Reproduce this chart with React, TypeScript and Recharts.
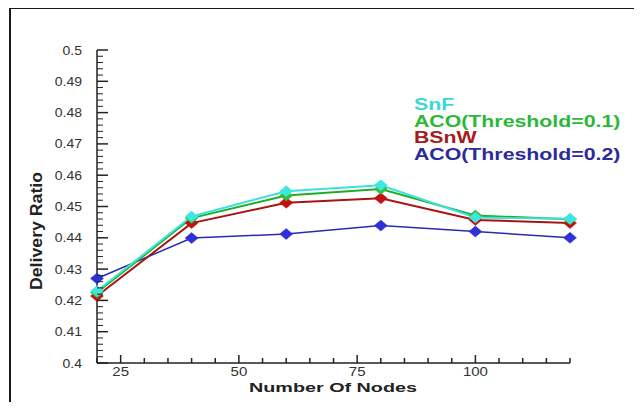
import { LineChart, Line, XAxis, YAxis, Legend } from "recharts";

const nodes = [20, 40, 60, 80, 100, 120];
const snf = [0.423, 0.4468, 0.4549, 0.4568, 0.4465, 0.4461];
const aco01 = [0.4225, 0.4463, 0.4535, 0.4556, 0.4471, 0.4459];
const bsnw = [0.4214, 0.4447, 0.4512, 0.4526, 0.4457, 0.4447];
const aco02 = [0.427, 0.4399, 0.4412, 0.4439, 0.442, 0.44];

const xMajor = [25, 50, 75, 100];
const yMajor = [0.4, 0.41, 0.42, 0.43, 0.44, 0.45, 0.46, 0.47, 0.48, 0.49, 0.5];

// minor ticks every 5 nodes / every 0.002
const xTicks: number[] = [];
for (let v = 20; v <= 120; v += 5) xTicks.push(v);
const yTicks: number[] = [];
for (let i = 400; i <= 500; i += 2) yTicks.push(i / 1000);

const data = nodes.map((n, i) => ({
  n,
  snf: snf[i],
  aco01: aco01[i],
  bsnw: bsnw[i],
  aco02: aco02[i],
}));

const series = [
  { key: "snf", name: "SnF", line: "#3ee0dc", dot: "#3fe6e0", text: "#3dd8d8", width: 2 },
  { key: "aco01", name: "ACO(Threshold=0.1)", line: "#1fae2a", dot: "#2fbf3a", text: "#2bb83a", width: 2 },
  { key: "bsnw", name: "BSnW", line: "#a81414", dot: "#c41010", text: "#a51a1a", width: 2 },
  { key: "aco02", name: "ACO(Threshold=0.2)", line: "#2a2ab0", dot: "#3030d8", text: "#2b2b9c", width: 1.5 },
];

const font = "'Liberation Sans', Arial, sans-serif";

const Diamond = (color: string) => (props: any) => {
  const { cx, cy } = props;
  if (cx == null || cy == null) return <g />;
  return (
    <polygon
      points={`${cx},${cy - 5.5} ${cx + 6.5},${cy} ${cx},${cy + 5.5} ${cx - 6.5},${cy}`}
      fill={color}
      stroke={color}
      strokeWidth={0.5}
    />
  );
};

function XTick(props: any) {
  const { x, y, payload } = props;
  const major = xMajor.includes(payload.value);
  return (
    <g>
      <line x1={x} y1={y} x2={x} y2={y - (major ? 8 : 5)} stroke="#222" strokeWidth={1.5} />
      {major && (
        <g transform={`translate(${x},${y + 13}) scale(1.25,1)`}>
          <text x={0} y={0} textAnchor="middle" fontSize={12} fill="#333" fontFamily={font}>
            {payload.value}
          </text>
        </g>
      )}
    </g>
  );
}

function YTick(props: any) {
  const { x, y, payload } = props;
  const major = Math.round(payload.value * 1000) % 10 === 0;
  return (
    <g>
      <line x1={x} y1={y} x2={x + (major ? 11 : 6)} y2={y} stroke="#222" strokeWidth={major ? 1.5 : 1} />
      {major && (
        <g transform={`translate(${x - 15},${y + 4.5}) scale(1.12,1)`}>
          <text x={0} y={0} textAnchor="end" fontSize={12.5} fill="#333" fontFamily={font}>
            {yMajor.find((m) => Math.abs(m - payload.value) < 1e-6)}
          </text>
        </g>
      )}
    </g>
  );
}

function LegendText() {
  return (
    <div
      style={{
        fontFamily: font,
        fontWeight: "bold",
        fontSize: 16,
        lineHeight: "16.5px",
        transform: "scaleX(1.33)",
        transformOrigin: "left top",
        whiteSpace: "nowrap",
      }}
    >
      {series.map((s) => (
        <div key={s.key} style={{ color: s.text }}>
          {s.name}
        </div>
      ))}
    </div>
  );
}

export default function App() {
  const drawOrder = [series[3], series[2], series[1], series[0]];
  return (
    <div style={{ position: "relative", width: 642, height: 410, margin: -8, background: "#fff" }}>
      <div
        style={{
          position: "absolute",
          left: 9,
          top: 7,
          width: 632,
          height: 400,
          borderLeft: "2px solid #1a1a1a",
          borderTop: "2px solid #1a1a1a",
          borderRight: "1px solid #e4e4e4",
          borderBottom: "1px solid #e4e4e4",
          boxSizing: "border-box",
        }}
      />
      <div style={{ position: "absolute", left: 0, top: 0 }}>
        <LineChart width={642} height={410} data={data} margin={{ top: 50, right: 72, bottom: 7, left: 37 }}>
          <XAxis
            dataKey="n"
            type="number"
            domain={[20, 120]}
            ticks={xTicks}
            interval={0}
            tickSize={0}
            tickMargin={0}
            tick={<XTick />}
            height={40}
            axisLine={{ stroke: "#222", strokeWidth: 1.5 }}
            label={{
              content: () => (
                <text
                  x={333}
                  y={392}
                  textAnchor="middle"
                  fontSize={13.5}
                  fontWeight="bold"
                  fill="#222"
                  fontFamily={font}
                  textLength={168}
                  lengthAdjust="spacingAndGlyphs"
                >
                  Number Of Nodes
                </text>
              ),
            }}
          />
          <YAxis
            type="number"
            domain={[0.4, 0.5]}
            ticks={yTicks}
            interval={0}
            tickSize={0}
            tickMargin={0}
            tick={<YTick />}
            width={60}
            axisLine={{ stroke: "#222", strokeWidth: 1.5 }}
            label={{
              content: () => (
                <text
                  x={42}
                  y={231}
                  transform="rotate(-90 42 231)"
                  textAnchor="middle"
                  fontSize={16.5}
                  fontWeight="bold"
                  fill="#222"
                  fontFamily={font}
                  textLength={118}
                  lengthAdjust="spacingAndGlyphs"
                >
                  Delivery Ratio
                </text>
              ),
            }}
          />
          <Legend
            layout="horizontal"
            verticalAlign="middle"
            align="center"
            wrapperStyle={{ left: 414, top: 97, width: "auto" }}
            content={<LegendText />}
          />
          {drawOrder.map((s) => (
            <Line
              key={s.key}
              dataKey={s.key}
              name={s.name}
              stroke={s.line}
              strokeWidth={s.width}
              dot={Diamond(s.dot)}
              activeDot={false}
              isAnimationActive={false}
            />
          ))}
        </LineChart>
      </div>
    </div>
  );
}
